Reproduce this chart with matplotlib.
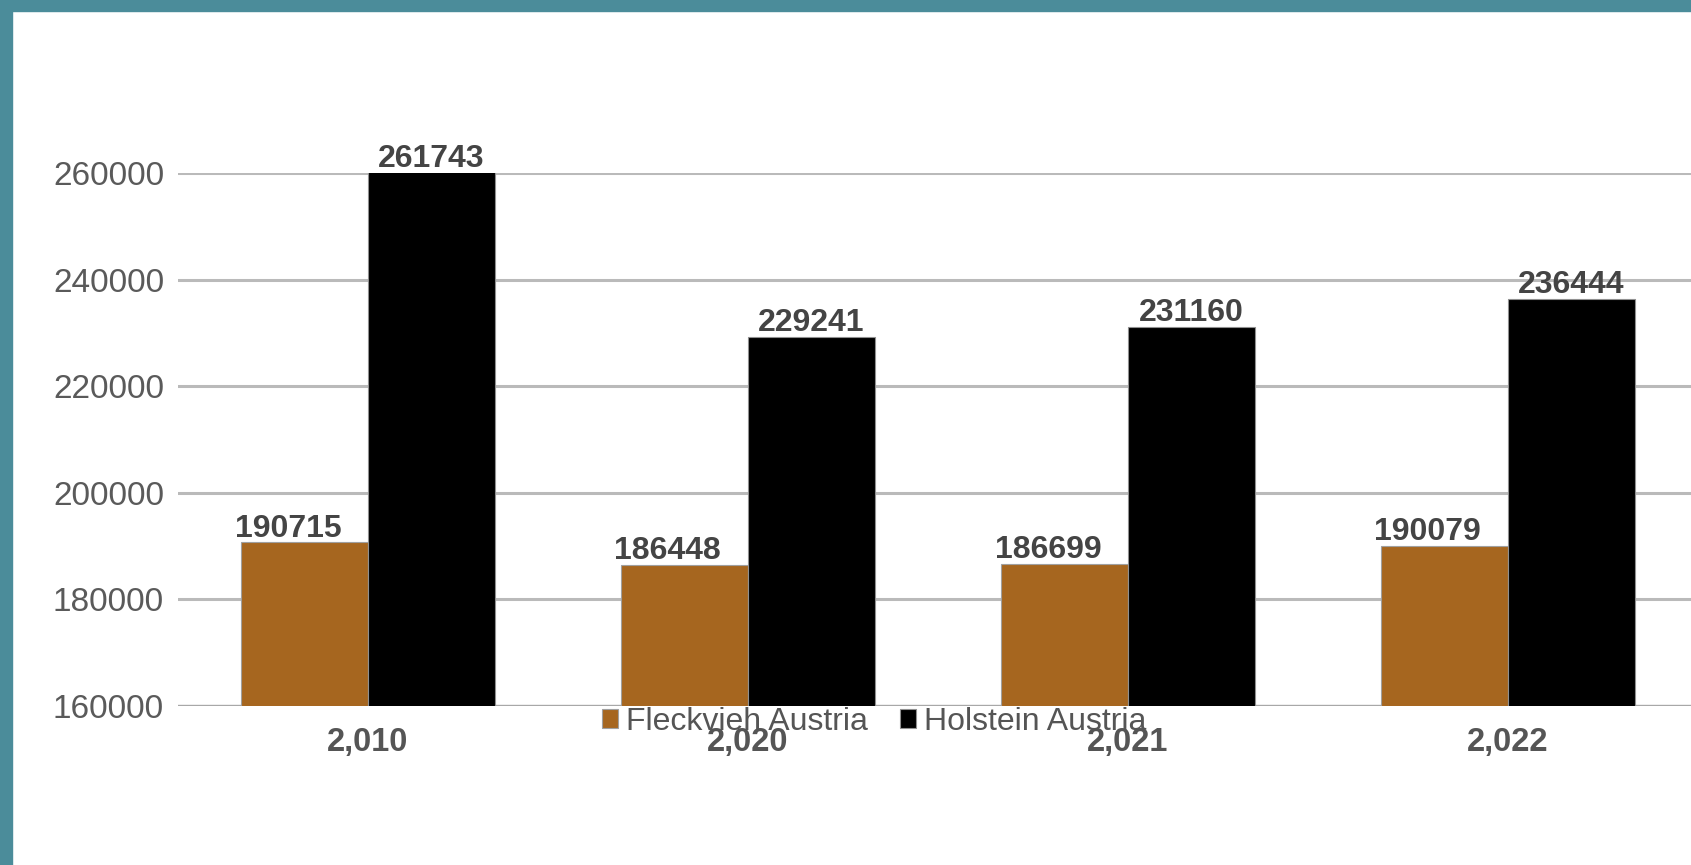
import numpy as np
import matplotlib
matplotlib.use('Agg')
import matplotlib.pyplot as plt
from matplotlib.patches import Rectangle

plt.rcParams['font.family'] = ['Liberation Sans', 'DejaVu Sans']

# data
years = ['2,010', '2,020', '2,021', '2,022']
fleckvieh = [190715, 186448, 186699, 190079]
holstein = [261743, 229241, 231160, 236444]
series_names = ['Fleckvieh Austria', 'Holstein Austria']
y_ticks = [160000, 180000, 200000, 220000, 240000, 260000]

W, H = 1691, 865
fig = plt.figure(figsize=(W / 100, H / 100), dpi=100)
fig.patch.set_facecolor('white')

# teal frame on top and left
fig.patches.append(Rectangle((0, 1 - 11 / H), 1, 11 / H, transform=fig.transFigure,
                             color='#4b8c9a', zorder=0))
fig.patches.append(Rectangle((0, 0), 12 / W, 1, transform=fig.transFigure,
                             color='#4b8c9a', zorder=0))

ax = fig.add_axes([178 / W, (H - 706) / H, 1520 / W, 533 / H])
x = np.arange(len(years))
bw = 0.334
ymax = 260000

b1 = ax.bar(x - bw / 2, fleckvieh, bw, color='#a6661f', edgecolor='#a0a0a0',
            linewidth=0.8, label=series_names[0], zorder=3)
b2 = ax.bar(x + bw / 2, holstein, bw, color='#000000', edgecolor='#909090',
            linewidth=0.8, label=series_names[1], zorder=3)

# value labels
for xi, v in zip(x, fleckvieh):
    ax.annotate(str(v), (xi - bw / 2, min(v, ymax)), xytext=(-12, -1),
                textcoords='offset points', ha='center', va='bottom',
                fontsize=23, fontweight='bold', color='#444444', zorder=4)
for xi, v in zip(x, holstein):
    ax.annotate(str(v), (xi + bw / 2, min(v, ymax)), xytext=(0, -1),
                textcoords='offset points', ha='center', va='bottom',
                fontsize=23, fontweight='bold', color='#444444', zorder=4)

ax.set_xlim(-0.5, len(years) - 0.5)
ax.set_ylim(160000, ymax)
ax.set_yticks(y_ticks)
ax.set_yticklabels([str(t) for t in y_ticks], fontsize=24, color='#5a5a5a')
ax.set_xticks(x)
ax.set_xticklabels(years, fontsize=23.5, fontweight='bold', color='#555555')
ax.tick_params(axis='both', length=0)
ax.tick_params(axis='y', pad=10)
ax.tick_params(axis='x', pad=15)
ax.yaxis.grid(True, color='#bababa', linewidth=2.2, zorder=1)
ax.set_axisbelow(True)
for s in ax.spines.values():
    s.set_visible(False)
ax.axhline(160000, color='#a8a8a8', linewidth=2.4, zorder=2)

leg = fig.legend(handles=[b1, b2], labels=series_names, loc='center',
                 bbox_to_anchor=(874 / W, (H - 722) / H), ncol=2, frameon=False,
                 fontsize=23, handlelength=0.5, handleheight=0.55,
                 handletextpad=0.25, columnspacing=1.0, borderpad=0)
for t in leg.get_texts():
    t.set_color('#555555')

fig.savefig('out.png', dpi=100)
